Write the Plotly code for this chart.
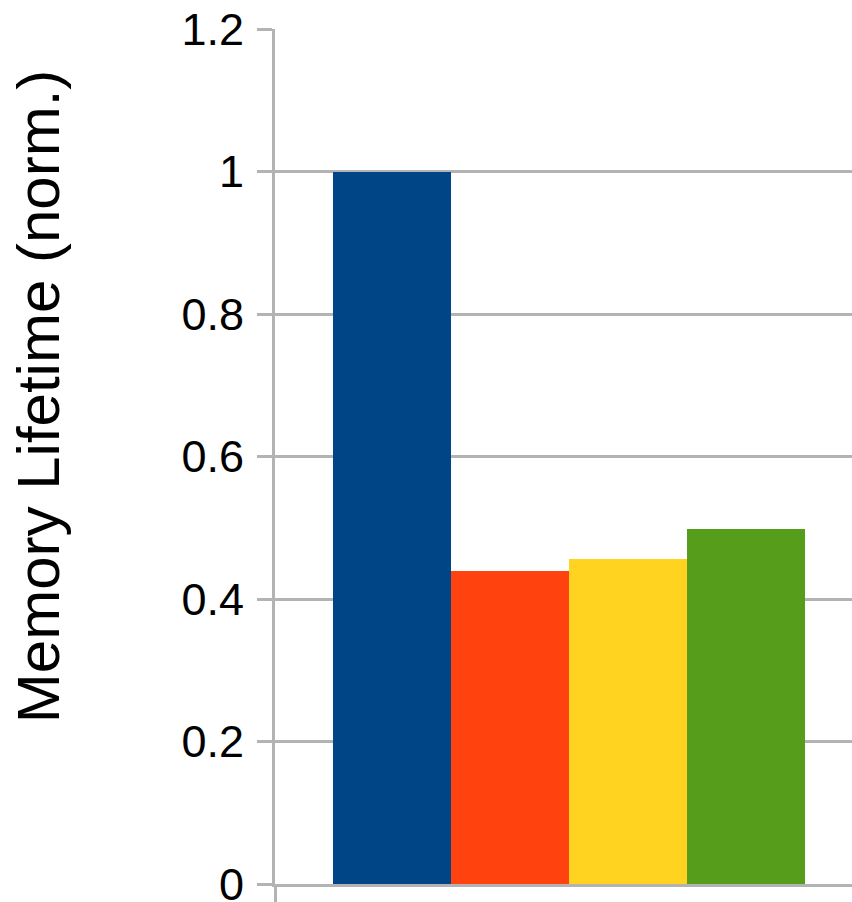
import plotly.graph_objects as go

# Normalized memory lifetime for the four configurations
positions = [0, 1, 2, 3]
lifetime = [1.0, 0.4395, 0.4563, 0.4985]
colors = ["#004586", "#ff420e", "#ffd320", "#579d1c"]

y_ticks = [0, 0.2, 0.4, 0.6, 0.8, 1.0, 1.2]
y_tick_text = ["0", "0.2", "0.4", "0.6", "0.8", "1", "1.2"]

grid_gray = "#b3b3b3"
font_family = "Liberation Sans, Arial, sans-serif"

fig = go.Figure()
for x, v, c in zip(positions, lifetime, colors):
    fig.add_trace(go.Bar(x=[x], y=[v], width=1, marker=dict(color=c, line=dict(width=0)),
                         showlegend=False))

x_lo, x_hi = -0.99, 3.90

fig.update_layout(
    width=852, height=902,
    margin=dict(l=275, r=0, t=29, b=18),
    paper_bgcolor="white", plot_bgcolor="white",
    barmode="overlay", bargap=0,
    font=dict(family=font_family, color="black"),
    xaxis=dict(range=[x_lo, x_hi], showgrid=False, zeroline=False, automargin=False,
               showline=True, linecolor=grid_gray, linewidth=3,
               tickmode="array", tickvals=[x_lo], ticktext=[""],
               ticks="outside", ticklen=16, tickwidth=3, tickcolor=grid_gray),
    yaxis=dict(range=[0, 1.2], tickmode="array", tickvals=y_ticks, ticktext=y_tick_text,
               showgrid=True, gridcolor=grid_gray, gridwidth=3, zeroline=False,
               showline=True, linecolor=grid_gray, linewidth=3, automargin=False,
               ticks="outside", ticklen=15, tickwidth=3, tickcolor=grid_gray,
               ticklabeloverflow="allow", ticklabelstandoff=4,
               tickfont=dict(size=45, color="black", family=font_family)),
    annotations=[dict(text="Memory Lifetime (norm.)", textangle=-90,
                      xref="paper", yref="paper", x=-0.411, y=0.5704,
                      xanchor="center", yanchor="middle", showarrow=False,
                      font=dict(size=60, color="black", family=font_family))],
)

fig.write_html("out.html")
